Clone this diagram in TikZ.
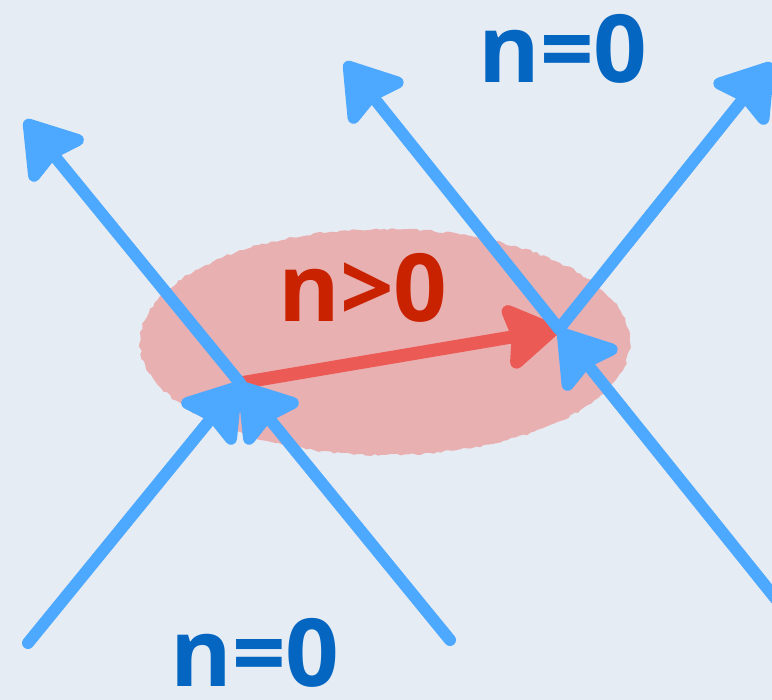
\documentclass[tikz,border=0pt]{standalone}
\usepackage{fontspec}
\setmainfont{Open Sans}
\usetikzlibrary{arrows.meta,decorations.pathmorphing}
\definecolor{bgc}{HTML}{E6ECF3}
\definecolor{pinkc}{HTML}{E9B0B2}
\definecolor{lineblue}{HTML}{4DA8FF}
\definecolor{linered}{HTML}{EC5A55}
\definecolor{txtblue}{HTML}{0566C2}
\definecolor{txtred}{HTML}{C82200}
\tikzset{
  bluearrow/.style={draw=lineblue, line width=12pt, line cap=round,
    -{Stealth[length=62pt, width=80pt, inset=8pt, round]}},
  redarrow/.style={draw=linered, line width=13pt, line cap=round,
    -{Stealth[length=62pt, width=76pt, inset=8pt, round]}},
  lbl/.style={font=\fontsize{94}{94}\selectfont\bfseries, inner sep=0pt, anchor=base}
}
\begin{document}
\begin{tikzpicture}[x=1pt,y=-1pt]
\useasboundingbox (0,0) rectangle (772,700);
\clip (0,0) rectangle (772,700);
\fill[bgc] (0,0) rectangle (772,700);
\pgfmathsetseed{7}
\fill[pinkc, decorate, decoration={random steps, segment length=4pt, amplitude=1.2pt}]
  (385,342) ellipse [x radius=245pt, y radius=113pt];
\coordinate (L) at (240,383);
\coordinate (R) at (559,329);
\coordinate (A1) at (450,640);
\coordinate (A2) at (25,120);
\coordinate (B1) at (28,643);
\coordinate (C1) at (780,604);
\coordinate (C2) at (345,62);
\coordinate (D2) at (772,63);
\draw[redarrow] (L) -- (R);
\draw[bluearrow] (A1) -- (L);
\draw[bluearrow] (L) -- (A2);
\draw[bluearrow] (B1) -- (L);
\draw[bluearrow] (C1) -- (R);
\draw[bluearrow] (R) -- (C2);
\draw[bluearrow] (R) -- (D2);
\node[lbl, text=txtblue] (top) at (563,83) {n=0};
\node[lbl, text=txtred] (mid) at (363,322) {n>0};
\node[lbl, text=txtblue] (bot) at (255,686) {n=0};
\end{tikzpicture}
\end{document}
